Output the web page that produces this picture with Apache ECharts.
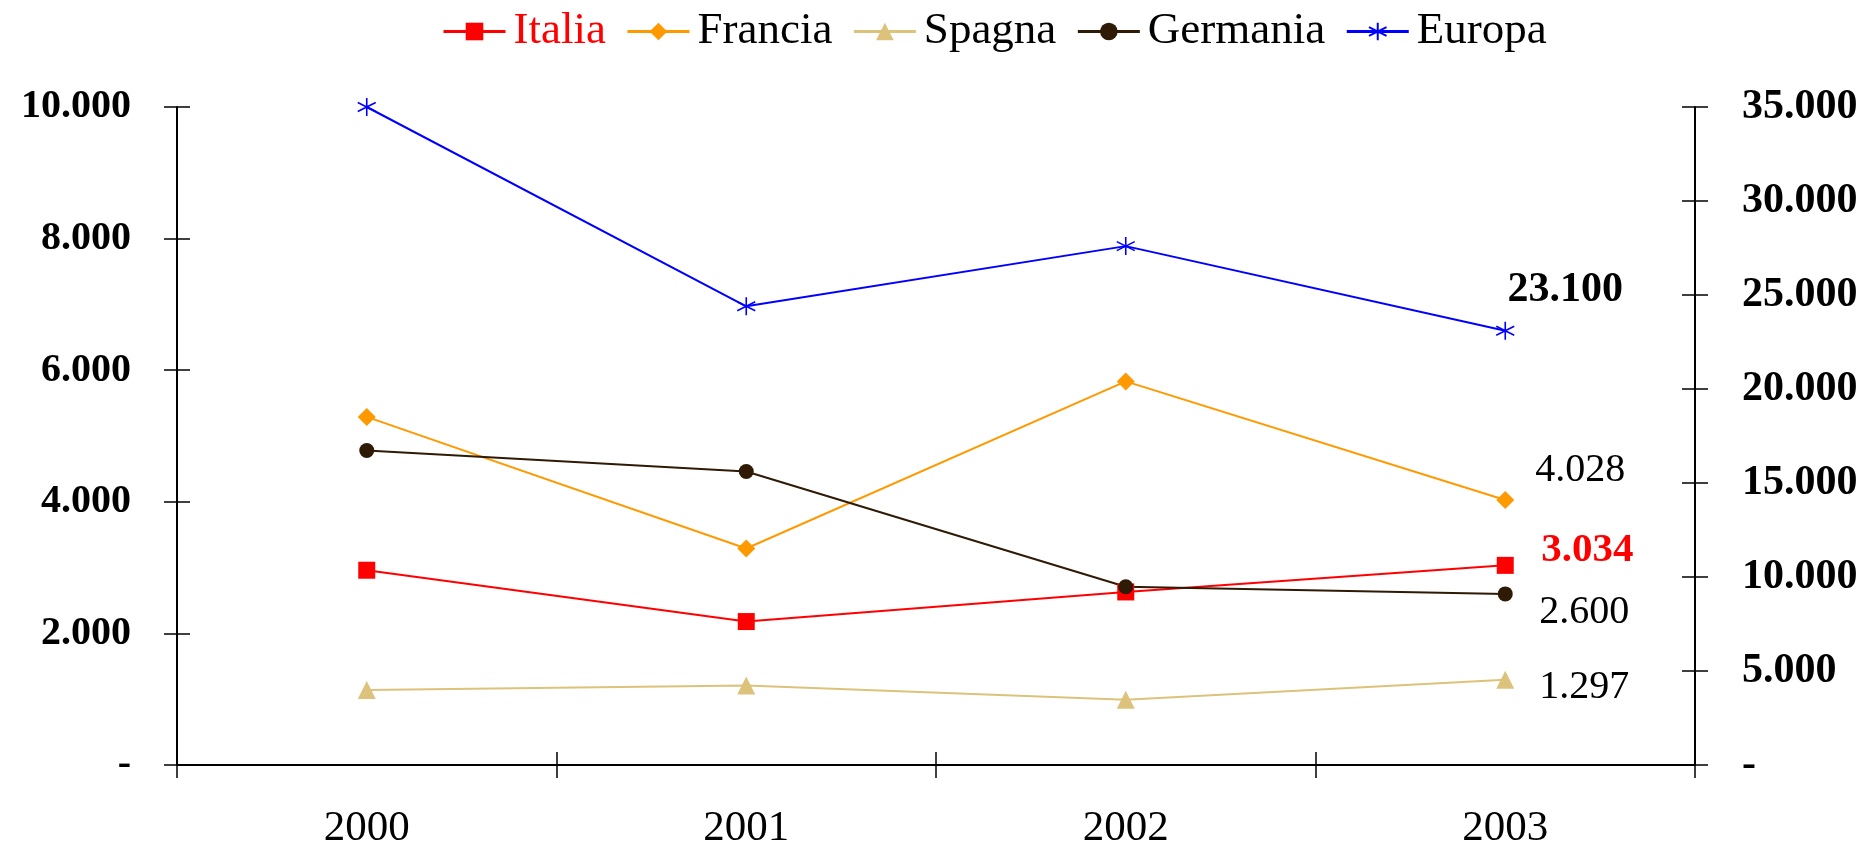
<!DOCTYPE html>
<html>
<head>
<meta charset="utf-8">
<script src="https://cdn.jsdelivr.net/npm/echarts@6/dist/echarts.min.js"></script>
<style>
  html, body { margin: 0; padding: 0; background: #fff; }
  #chart { width: 1868px; height: 850px; }
</style>
</head>
<body>
<div id="chart"></div>
<script>
// categories
const years = ['2000', '2001', '2002', '2003'];

// left axis series
const italia = [2960, 2180, 2630, 3034];
const francia = [5290, 3290, 5830, 4028];
const spagna = [1140, 1210, 990, 1297];
const germania = [4780, 4460, 2710, 2600];
// right axis series
const europa = [35000, 24400, 27600, 23100];

const serif = 'Liberation Serif';

function fmt(v) {
  if (v === 0) return '-';
  return String(v).replace(/\B(?=(\d{3})+(?!\d))/g, '.');
}

// data with a label only on the last point
function withLastLabel(arr, label) {
  return arr.map((v, i) => i === arr.length - 1
    ? { value: v, label: Object.assign({ show: true, position: 'inside', fontFamily: serif, formatter: p => fmt(p.value) }, label) }
    : v);
}

const chart = echarts.init(document.getElementById('chart'));

const tickLen = 13;
const tickStyle = { color: '#000', width: 1.5 };
const lineStyle = { color: '#000', width: 2 };

// the value axes are moved tickLen into the plot and get ticks 2*tickLen long,
// so the ticks cross the axis line; the line itself comes from an extra axis
const leftAxis = {
  type: 'value', min: 0, max: 10000, interval: 2000,
  position: 'left', offset: -tickLen,
  splitLine: { show: false },
  axisLine: { show: false },
  axisTick: { show: true, length: 2 * tickLen, lineStyle: tickStyle },
  axisLabel: {
    margin: 46 + tickLen, fontFamily: serif, fontSize: 40, fontWeight: 'bold',
    color: '#000', formatter: fmt
  }
};
const rightAxis = {
  type: 'value', min: 0, max: 35000, interval: 5000,
  position: 'right', offset: -tickLen,
  splitLine: { show: false },
  axisLine: { show: false },
  axisTick: { show: true, length: 2 * tickLen, lineStyle: tickStyle },
  axisLabel: {
    margin: 47 + tickLen, fontFamily: serif, fontSize: 42, fontWeight: 'bold',
    color: '#000', formatter: fmt
  }
};
const lineOnly = pos => ({
  type: 'value', min: 0, max: 10, position: pos,
  splitLine: { show: false },
  axisLine: { show: true, onZero: false, lineStyle: lineStyle },
  axisTick: { show: false },
  axisLabel: { show: false }
});

const option = {
  backgroundColor: '#fff',
  animation: false,
  legend: {
    top: 4,
    left: 437,
    itemWidth: 62,
    itemHeight: 22,
    itemGap: 20,
    lineStyle: { width: 3 },
    textStyle: { fontFamily: serif, fontSize: 45, color: '#000', padding: [0, 0, 0, 3] },
    data: [
      { name: 'Italia', textStyle: { color: '#ff0000' } },
      'Francia', 'Spagna', 'Germania', 'Europa'
    ]
  },
  grid: { left: 177, right: 173, top: 107, bottom: 83 },
  xAxis: [
    {
      type: 'category',
      data: years,
      boundaryGap: true,
      axisLine: { show: true, onZero: false, lineStyle: lineStyle },
      axisTick: { show: true, length: tickLen, lineStyle: tickStyle },
      axisLabel: {
        margin: 42, fontFamily: serif, fontSize: 43, color: '#000'
      }
    },
    {
      type: 'category',
      data: years,
      position: 'bottom',
      boundaryGap: true,
      offset: -tickLen,
      axisLine: { show: false, onZero: false },
      axisTick: { show: true, length: tickLen, lineStyle: tickStyle },
      axisLabel: { show: false }
    }
  ],
  yAxis: [leftAxis, rightAxis, lineOnly('left'), lineOnly('right')],
  series: [
    {
      name: 'Italia', type: 'line', yAxisIndex: 0,
      color: '#ff0000',
      symbol: 'rect', symbolSize: 17,
      lineStyle: { width: 2 },
      data: withLastLabel(italia, {
        offset: [82, -15], fontSize: 41, fontWeight: 'bold', color: '#ff0000'
      })
    },
    {
      name: 'Francia', type: 'line', yAxisIndex: 0,
      color: '#ff9900',
      symbol: 'diamond', symbolSize: 18,
      lineStyle: { width: 2 },
      data: withLastLabel(francia, {
        offset: [75, -29], fontSize: 40, color: '#000'
      })
    },
    {
      name: 'Spagna', type: 'line', yAxisIndex: 0,
      color: '#dcc27a',
      symbol: 'triangle', symbolSize: 18,
      lineStyle: { width: 2 },
      data: withLastLabel(spagna, {
        offset: [79, 8], fontSize: 40, color: '#000'
      })
    },
    {
      name: 'Germania', type: 'line', yAxisIndex: 0,
      color: '#2e1a05',
      symbol: 'circle', symbolSize: 15,
      lineStyle: { width: 2 },
      data: withLastLabel(germania, {
        offset: [79, 19], fontSize: 40, color: '#000'
      })
    },
    {
      name: 'Europa', type: 'line', yAxisIndex: 1,
      color: '#0000ff',
      symbol: 'path://M10,0L10,20M1.34,5L18.66,15M1.34,15L18.66,5',
      symbolSize: 18,
      itemStyle: { borderColor: '#0000ff', borderWidth: 1.6 },
      lineStyle: { width: 2 },
      data: withLastLabel(europa, {
        offset: [60, -41], fontSize: 42, fontWeight: 'bold', color: '#000'
      })
    }
  ]
};

chart.setOption(option);
</script>
</body>
</html>
